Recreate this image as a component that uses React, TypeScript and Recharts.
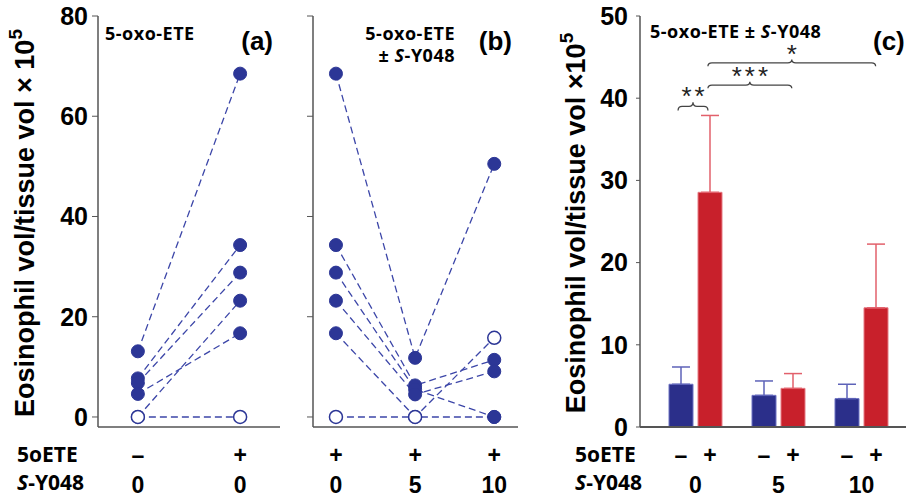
import React from 'react';
import {
  LineChart,
  Line,
  BarChart,
  Bar,
  ErrorBar,
  XAxis,
  YAxis,
  ReferenceArea,
} from 'recharts';

const AXIS_FONT = '"Liberation Sans", Arial, sans-serif';
const LABEL_FONT = '"Open Sans", sans-serif';
const DOT = '#2c3696';
const DASH = '#3c46a8';
const BORDER = '#555';

// panel (a): vehicle (-) vs 5-oxo-ETE (+), one line per animal
const aPositions = [0, 1];
const aSigns = ['–', '+'];
const aDoses = ['0', '0'];
const aFilled = [
  [13.1, 68.5],
  [7.7, 34.3],
  [6.8, 28.8],
  [4.6, 16.7],
  [0, 23.2],
];
const aOpen = [[0, 0]];

// panel (b): 5-oxo-ETE with 0 / 5 / 10 S-Y048
const bPositions = [0, 1, 2];
const bSigns = ['+', '+', '+'];
const bDoses = ['0', '5', '10'];
const bFilled = [
  [68.5, 11.8, 50.5],
  [34.3, 6.3, 11.4],
  [28.8, 5.5, 0],
  [23.2, 4.5, 9.1],
  [16.7, 0, 0],
];
const bOpen = [[0, 0, 15.8]];

const ticks80 = [0, 20, 40, 60, 80];
const ticks50 = [0, 10, 20, 30, 40, 50];

// panel (c): means + SEM
const cDoses = ['0', '5', '10'];
const vehMean = [5.2, 3.85, 3.45];
const vehSem = [2.1, 1.75, 1.75];
const oxoMean = [28.55, 4.7, 14.5];
const oxoSem = [9.35, 1.8, 7.75];

const cData = cDoses.map((d, i) => ({
  dose: d,
  veh: vehMean[i],
  vehErr: [0, vehSem[i]],
  oxo: oxoMean[i],
  oxoErr: [0, oxoSem[i]],
}));

// significance braces, x in group units (group i centred on i)
const brackets = [
  { x1: -0.21, x2: 0.15, y1: 38.5, y2: 39.5, text: '**' },
  { x1: 0.15, x2: 1.16, y1: 41.2, y2: 42.0, text: '***' },
  { x1: 0.15, x2: 2.17, y1: 43.9, y2: 44.7, text: '*' },
];

const BAR_SIZE = 24;
const BAR_GAP = 5;

const DoseTick = (props: any) => {
  const { x, y, payload, positions, signs, doses } = props;
  const i = positions.indexOf(payload.value);
  return (
    <g>
      <text x={x} y={y + 36} textAnchor="middle" fontFamily={AXIS_FONT} fontWeight={700} fontSize={23} fill="#000">
        {signs[i]}
      </text>
      <text x={x} y={y + 66} textAnchor="middle" fontFamily={AXIS_FONT} fontWeight={700} fontSize={23} fill="#000">
        {doses[i]}
      </text>
    </g>
  );
};

const PairTick = (props: any) => {
  const { x, y, payload } = props;
  const off = (BAR_SIZE + BAR_GAP) / 2;
  const style = { fontFamily: AXIS_FONT, fontWeight: 700, fontSize: 23, fill: '#000' };
  return (
    <g>
      <text x={x - off} y={y + 36} textAnchor="middle" {...style}>–</text>
      <text x={x + off} y={y + 36} textAnchor="middle" {...style}>+</text>
      <text x={x} y={y + 66} textAnchor="middle" {...style}>{payload.value}</text>
    </g>
  );
};

const Brace = (props: any) => {
  const { x, y, width, height, text } = props;
  const x0 = x;
  const x1 = x + width;
  const xm = x + width / 2;
  const yt = y;
  const yb = y + height;
  const ym = (yt + yb) / 2;
  const r = 4;
  const d = `M${x0},${yb} Q${x0},${ym} ${x0 + r},${ym} L${xm - r},${ym} Q${xm},${ym} ${xm},${yt} Q${xm},${ym} ${xm + r},${ym} L${x1 - r},${ym} Q${x1},${ym} ${x1},${yb}`;
  return (
    <g>
      <path d={d} fill="none" stroke="#444" strokeWidth={1.3} />
      <text x={xm + 1.5} y={yt + 3} textAnchor="middle" fontFamily={AXIS_FONT} fontSize={26} letterSpacing={3} fill="#222">
        {text}
      </text>
    </g>
  );
};

const renderDot = (open: boolean) => (p: any) => (
  <circle
    key={`d-${p.index}`}
    cx={p.cx}
    cy={p.cy}
    r={6.5}
    fill={open ? '#fff' : DOT}
    stroke={DOT}
    strokeWidth={open ? 1.5 : 1}
  />
);

const SubjectPanel = (props: any) => {
  const { width, yAxisWidth, showYLabels, xDomain, positions, signs, doses, filled, open } = props;
  const toPoints = (vals: number[]) => vals.map((v, i) => ({ x: positions[i], y: v }));
  const axisLine = { stroke: BORDER, strokeWidth: 1.5 };
  const series = [
    ...filled.map((s: number[]) => ({ pts: toPoints(s), open: false })),
    ...open.map((s: number[]) => ({ pts: toPoints(s), open: true })),
  ];
  return (
    <LineChart width={width} height={497} margin={{ top: 16, right: 10, bottom: 0, left: 0 }}>
      <XAxis
        dataKey="x"
        type="number"
        domain={xDomain}
        ticks={positions}
        allowDataOverflow
        tickLine={false}
        tickSize={0}
        tickMargin={0}
        height={70}
        axisLine={axisLine}
        tick={(p: any) => <DoseTick {...p} positions={positions} signs={signs} doses={doses} />}
      />
      <XAxis
        xAxisId="top"
        orientation="top"
        type="number"
        domain={xDomain}
        height={0}
        tick={false}
        tickLine={false}
        axisLine={axisLine}
      />
      <YAxis
        type="number"
        domain={[-2, 80]}
        ticks={ticks80}
        width={yAxisWidth}
        tickSize={6}
        tickMargin={4}
        tickLine={{ stroke: BORDER }}
        axisLine={axisLine}
        tickFormatter={(v: number) => (showYLabels ? String(v) : '')}
        tick={{ fontFamily: AXIS_FONT, fontWeight: 700, fontSize: 25, fill: '#000' }}
      />
      <YAxis
        yAxisId="right"
        orientation="right"
        type="number"
        domain={[-2, 80]}
        width={0}
        tick={false}
        tickLine={false}
        axisLine={axisLine}
      />
      {series.map((s: any, i: number) => (
        <Line
          key={i}
          data={s.pts}
          dataKey="y"
          stroke={DASH}
          strokeWidth={1.3}
          strokeDasharray="7 4"
          dot={renderDot(s.open)}
          activeDot={false}
          isAnimationActive={false}
        />
      ))}
    </LineChart>
  );
};

const App = () => {
  const txt = { fontFamily: AXIS_FONT, fontWeight: 700, fill: '#000' } as const;
  const lbl = { fontFamily: LABEL_FONT, fontWeight: 700, fill: '#000' } as const;
  return (
    <div
      style={{
        position: 'absolute',
        left: 0,
        top: 0,
        width: 906,
        height: 497,
        overflow: 'hidden',
        background: '#fff',
      }}
    >
      <div style={{ position: 'absolute', left: 0, top: 0 }}>
        <SubjectPanel
          width={290}
          yAxisWidth={98}
          showYLabels
          xDomain={[-0.39, 1.39]}
          positions={aPositions}
          signs={aSigns}
          doses={aDoses}
          filled={aFilled}
          open={aOpen}
        />
      </div>
      <div style={{ position: 'absolute', left: 300, top: 0 }}>
        <SubjectPanel
          width={228}
          yAxisWidth={13}
          showYLabels={false}
          xDomain={[-0.29, 2.3]}
          positions={bPositions}
          signs={bSigns}
          doses={bDoses}
          filled={bFilled}
          open={bOpen}
        />
      </div>
      <div style={{ position: 'absolute', left: 540, top: 0 }}>
        <BarChart
          width={387}
          height={497}
          data={cData}
          margin={{ top: 16, right: 10, bottom: 0, left: 0 }}
          barSize={BAR_SIZE}
          barGap={BAR_GAP}
        >
          <XAxis
            dataKey="dose"
            padding={{ left: 14, right: 14 }}
            tickLine={false}
            tickSize={0}
            tickMargin={0}
            height={70}
            axisLine={{ stroke: BORDER, strokeWidth: 2 }}
            tick={(p: any) => <PairTick {...p} />}
          />
          <XAxis
            xAxisId="num"
            type="number"
            domain={[0, 2]}
            padding={{ left: 55.5, right: 55.5 }}
            allowDataOverflow
            hide
          />
          <XAxis
            xAxisId="top"
            orientation="top"
            dataKey="dose"
            height={0}
            tick={false}
            tickLine={false}
            axisLine={{ stroke: BORDER, strokeWidth: 1.5 }}
          />
          <YAxis
            type="number"
            domain={[0, 50]}
            ticks={ticks50}
            width={100}
            tickSize={4}
            tickMargin={8}
            tickLine={{ stroke: BORDER }}
            axisLine={{ stroke: BORDER, strokeWidth: 1.5 }}
            tick={{ fontFamily: AXIS_FONT, fontWeight: 700, fontSize: 25, fill: '#000' }}
          />
          <YAxis
            yAxisId="right"
            orientation="right"
            type="number"
            domain={[0, 50]}
            width={0}
            tick={false}
            tickLine={false}
            axisLine={{ stroke: BORDER, strokeWidth: 1.5 }}
          />
          <Bar dataKey="veh" fill="#2b2f8a" stroke="#6d72c2" strokeWidth={1} isAnimationActive={false}>
            <ErrorBar dataKey="vehErr" direction="y" width={9} stroke="#5d62b8" strokeWidth={1.5} isAnimationActive={false} />
          </Bar>
          <Bar dataKey="oxo" fill="#c8202b" stroke="#e67b84" strokeWidth={1} isAnimationActive={false}>
            <ErrorBar dataKey="oxoErr" direction="y" width={9} stroke="#e2606b" strokeWidth={1.5} isAnimationActive={false} />
          </Bar>
          {brackets.map((b, i) => (
            <ReferenceArea
              key={i}
              xAxisId="num"
              x1={b.x1}
              x2={b.x2}
              y1={b.y1}
              y2={b.y2}
              ifOverflow="visible"
              shape={(p: any) => <Brace {...p} text={b.text} />}
            />
          ))}
        </BarChart>
      </div>
      <svg
        width={906}
        height={497}
        style={{ position: 'absolute', left: 0, top: 0, pointerEvents: 'none' }}
      >
        <text transform="translate(34,223) rotate(-90)" textAnchor="middle" fontSize={27} {...txt}>
          Eosinophil vol/tissue vol × 10
          <tspan dy={-12} fontSize={19}>5</tspan>
        </text>
        <text transform="translate(585,223) rotate(-90)" textAnchor="middle" fontSize={27} {...txt}>
          Eosinophil vol/tissue vol ×10
          <tspan dy={-12} fontSize={19}>5</tspan>
        </text>

        <text x={105} y={40} fontSize={18} letterSpacing={0.5} {...lbl}>5-oxo-ETE</text>
        <text x={273} y={50} textAnchor="end" fontSize={26} {...txt}>(a)</text>

        <text x={455} y={40} textAnchor="end" fontSize={18} letterSpacing={0.5} {...lbl}>5-oxo-ETE</text>
        <text x={455} y={62} textAnchor="end" fontSize={18} letterSpacing={0.5} {...lbl}>
          ± <tspan fontStyle="italic">S</tspan>-Y048
        </text>
        <text x={512} y={50} textAnchor="end" fontSize={26} {...txt}>(b)</text>

        <text x={650} y={38} fontSize={18} letterSpacing={0.5} {...lbl}>
          5-oxo-ETE ± <tspan fontStyle="italic">S</tspan>-Y048
        </text>
        <text x={873} y={50} fontSize={26} {...txt}>(c)</text>

        <text x={17} y={462} fontSize={21} {...lbl}>5oETE</text>
        <text x={17} y={490} fontSize={21} {...lbl}>
          <tspan fontStyle="italic">S</tspan>-Y048
        </text>
        <text x={575} y={462} fontSize={21} {...lbl}>5oETE</text>
        <text x={575} y={490} fontSize={21} {...lbl}>
          <tspan fontStyle="italic">S</tspan>-Y048
        </text>
      </svg>
    </div>
  );
};

export default App;
